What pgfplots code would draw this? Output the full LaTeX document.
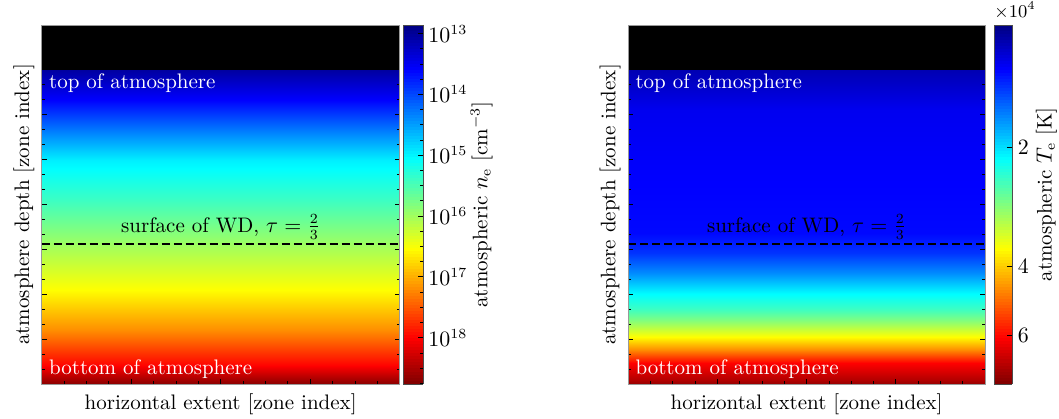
\documentclass[border=0pt]{standalone}
\usepackage{pgfplots}
\pgfplotsset{compat=1.18}

% both panels share the zone grid: 80 x 80 zones, depth grows downward
\pgfplotsset{
  zonemap/.style={
    scale only axis, width=179pt, height=179.5pt,
    xmin=0, xmax=80, ymin=0, ymax=80, y dir=reverse,
    xtick={0,20,...,80}, ytick={0,10,...,80},
    minor x tick num=3, minor y tick num=2,
    xticklabels={}, yticklabels={},
    tick align=inside, tick pos=both,
    major tick length=2.5pt, minor tick length=1.5pt,
    tick style={black, line width=0.4pt},
    axis line style={black!40},
    axis on top,
    colormap={mjet}{rgb255(0cm)=(0,0,128) rgb255(1cm)=(0,0,255) rgb255(3cm)=(0,255,255)
      rgb255(5cm)=(255,255,0) rgb255(7cm)=(255,0,0) rgb255(8cm)=(128,0,0)},
    xlabel={horizontal extent [zone index]},
    ylabel={atmosphere depth [zone index]},
    every axis x label/.style={at={(axis description cs:0.5,0)}, anchor=north, yshift=-1pt},
    every axis y label/.style={at={(axis description cs:0,0.5)}, anchor=south, rotate=90},
    colorbar right,
    colorbar sampled,
  },
  cbar/.style={
    at={(parent axis.north east)}, anchor=north west,
    y dir=reverse,
    samples=120,
    ytick pos=right, yticklabel pos=right, ytick align=inside,
    yticklabel style={xshift=-1pt},
    major tick length=2.5pt, minor tick length=1.5pt,
    tick style={black, line width=0.4pt},
    axis line style={black!70},
    axis on top,
  },
}

\begin{document}
\fontsize{10.5}{12.6}\selectfont
\begin{tikzpicture}

% ---- left: electron density, log10(n_e / cm^-3)
\begin{axis}[zonemap, at={(0pt,0pt)}, anchor=south west,
    point meta min=12.86, point meta max=18.76,
    colorbar shift/.style={xshift=1.7pt},
    colorbar style={cbar, width=10pt,
      ytick={13,14,15,16,17,18},
      yticklabels={$10^{13}$,$10^{14}$,$10^{15}$,$10^{16}$,$10^{17}$,$10^{18}$},
      minor ytick={13.25,13.5,13.75,14.25,14.5,14.75,15.25,15.5,15.75,16.25,16.5,16.75,17.25,17.5,17.75,18.25,18.5,18.75},
      ylabel={atmospheric $n_\mathrm{e}$ [cm$^{-3}$]},
      every axis y label/.style={at={(axis description cs:1,0.5)}, anchor=north, xshift=20pt, rotate=90},
    },
  ]
  \addplot[fill=black, draw=none] coordinates {(0,0) (80,0) (80,10) (0,10)} -- cycle;
  \addplot[surf, shader=interp, mesh/cols=2, point meta=explicit] table[meta=v] {
    x  y    v
    0  10   13.05
    80 10   13.05
    0  16.7 13.60
    80 16.7 13.60
    0  23.4 14.30
    80 23.4 14.30
    0  30.1 14.98
    80 30.1 14.98
    0  39.0 15.42
    80 39.0 15.42
    0  49.0 16.00
    80 49.0 16.00
    0  59.0 16.55
    80 59.0 16.55
    0  68.0 17.20
    80 68.0 17.20
    0  75.8 18.00
    80 75.8 18.00
    0  80   18.70
    80 80   18.70
  };
  \addplot[black, line width=0.8pt, dash pattern=on 4pt off 2pt] coordinates {(0,48.8) (80,48.8)};
  \node[white, anchor=west] at (axis cs:0,13) {top of atmosphere};
  \node[white, anchor=west] at (axis cs:0,76.7) {bottom of atmosphere};
  \node[anchor=south, inner sep=2pt] at (axis cs:40,48.8) {surface of WD, $\tau=\frac{2}{3}$};
\end{axis}

% ---- right: electron temperature, log10(T_e / 1e4 K)
\begin{axis}[zonemap, at={(293.2pt,0pt)}, anchor=south west, width=178.5pt,
    point meta min=-0.008, point meta max=0.9,
    colorbar shift/.style={xshift=4.5pt},
    colorbar style={cbar, width=9.2pt,
      ytick={0.30103,0.60206,0.77815},
      yticklabels={$2$,$4$,$6$},
      ylabel={atmospheric $T_\mathrm{e}$ [K]},
      every axis y label/.style={at={(axis description cs:1,0.5)}, anchor=north, xshift=8pt, yshift=5pt, rotate=90},
      extra description/.code={
        \node[anchor=base west, inner sep=0pt, yshift=4pt, font=\fontsize{9}{10}\selectfont] at (axis description cs:0,1) {$\times10^{4}$};
      },
    },
  ]
  \addplot[fill=black, draw=none] coordinates {(0,0) (80,0) (80,10) (0,10)} -- cycle;
  \addplot[surf, shader=interp, mesh/cols=2, point meta=explicit] table[meta=v] {
    x  y    v
    0  10   0.037
    80 10   0.037
    0  18.9 0.092
    80 18.9 0.092
    0  33.0 0.104
    80 33.0 0.104
    0  46.3 0.112
    80 46.3 0.112
    0  50.8 0.151
    80 50.8 0.151
    0  55.3 0.230
    80 55.3 0.230
    0  59.7 0.328
    80 59.7 0.328
    0  63.5 0.390
    80 63.5 0.390
    0  65.7 0.446
    80 65.7 0.446
    0  69.5 0.560
    80 69.5 0.560
    0  72.4 0.664
    80 72.4 0.664
    0  75.3 0.786
    80 75.3 0.786
    0  79.1 0.855
    80 79.1 0.855
    0  80   0.880
    80 80   0.880
  };
  \addplot[black, line width=0.8pt, dash pattern=on 4pt off 2pt] coordinates {(0,48.8) (80,48.8)};
  \node[white, anchor=west] at (axis cs:0,13) {top of atmosphere};
  \node[white, anchor=west] at (axis cs:0,76.7) {bottom of atmosphere};
  \node[anchor=south, inner sep=2pt] at (axis cs:40,48.8) {surface of WD, $\tau=\frac{2}{3}$};
\end{axis}

\pgfresetboundingbox
\path (-20.85pt,-17pt) rectangle (508.65pt,192pt);
\end{tikzpicture}
\end{document}
